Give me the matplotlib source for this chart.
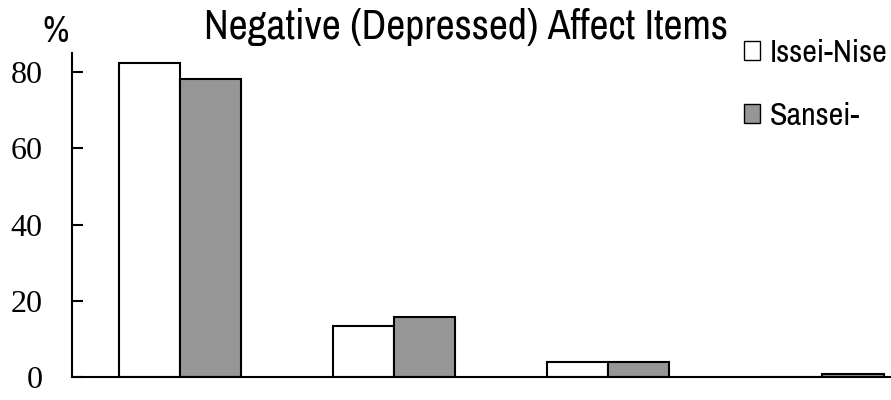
import matplotlib
matplotlib.use("Agg")
import matplotlib.pyplot as plt
from matplotlib import font_manager
from matplotlib.patches import Patch
import numpy as np

groups = ["1", "2", "3", "4"]
issei_nisei = [82.4, 13.4, 3.9, 0.0]
sansei = [78.2, 15.7, 3.9, 0.8]
yticks = [0, 20, 40, 60, 80]
series_labels = ["Issei-Nise", "Sansei-"]

installed = {f.name for f in font_manager.fontManager.ttflist}


def pick_font(candidates):
    for name in candidates:
        if name in installed:
            return name
    return None


sans_name = pick_font(["Liberation Sans Narrow", "Arial Narrow", "Archivo Narrow",
                       "PT Sans Narrow", "Roboto Condensed", "Pragati Narrow",
                       "Open Sans Condensed", "Encode Sans Condensed"])
narrow = [sans_name, "DejaVu Sans"] if sans_name else ["DejaVu Sans"]

# condensed serif for the axis numbers, with a size to suit the face found
serif_sizes = {"Noto Serif ExtraCondensed": 29, "Noto Serif Condensed": 26,
               "Noto Serif SemiCondensed": 24, "Liberation Serif": 23}
serif_name = pick_font(list(serif_sizes)) or "Liberation Serif"
serif = [serif_name, "DejaVu Serif"]
tick_size = serif_sizes[serif_name]

fig = plt.figure(figsize=(8.91, 4.0), dpi=100)
ax = fig.add_axes([72 / 891, 23 / 400, 1 - 72 / 891, 324 / 400])

x = np.arange(len(groups))
w = 0.285
ax.bar(x - w / 2, issei_nisei, w, color="white", edgecolor="black", linewidth=1.5)
ax.bar(x + w / 2, sansei, w, color="#969696", edgecolor="black", linewidth=1.5)

ax.set_xlim(-0.505, 3.32)
ax.set_ylim(0, 85)
ax.set_xticks([])
ax.set_yticks(yticks)
ax.set_yticklabels([str(t) for t in yticks], family=serif, fontsize=tick_size)
ax.tick_params(axis="y", direction="in", length=8, width=1.5, pad=21)
for s in ["top", "right"]:
    ax.spines[s].set_visible(False)
for s in ["left", "bottom"]:
    ax.spines[s].set_linewidth(1.5)

fig.text(466 / 891, 1 - 27 / 400, "Negative (Depressed) Affect Items", family=narrow,
         fontsize=30, ha="center", va="center")
fig.text(55 / 891, 1 - 32 / 400, "%", family=narrow, fontsize=26, ha="center", va="center")

handles = [Patch(facecolor="white", edgecolor="black", linewidth=1),
           Patch(facecolor="#969696", edgecolor="black", linewidth=1)]
fig.legend(handles, series_labels, loc="upper left",
           bbox_to_anchor=(715 / 891, 0.975), frameon=False,
           prop={"family": narrow, "size": 23}, handlelength=0.5,
           handleheight=0.55, handletextpad=0.3, labelspacing=1.1)

fig.savefig("out.png", dpi=100)
